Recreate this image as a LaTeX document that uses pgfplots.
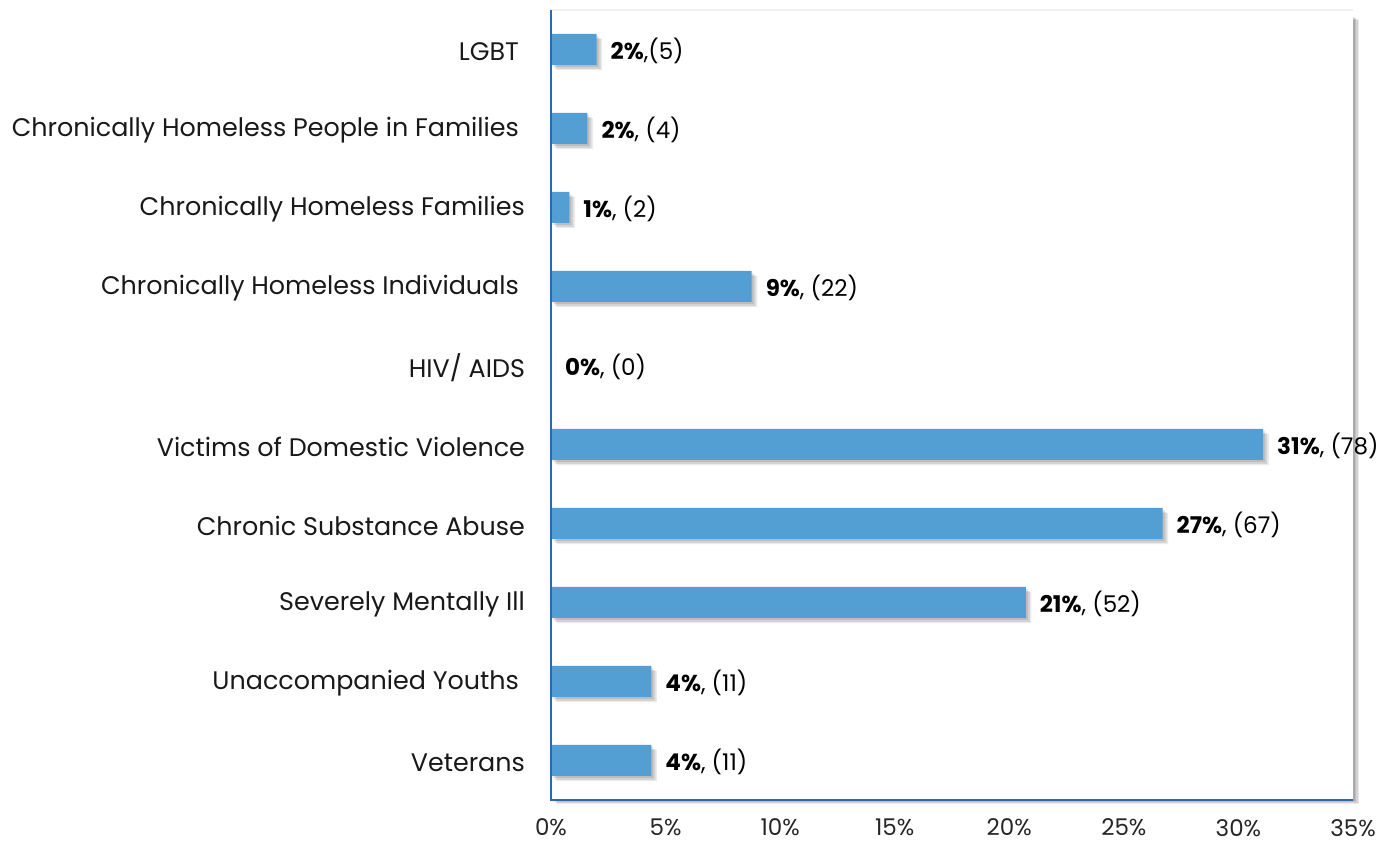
\documentclass[border=0pt]{standalone}
\usepackage{pgfplots}
\pgfplotsset{compat=1.18}
\usepackage{fontspec}
\setmainfont{Poppins}
\definecolor{barblue}{HTML}{539FD3}
\definecolor{axblue}{HTML}{2B6CA8}
\pgfplotstableread{
y x
0 4.38
1 4.38
2 20.72
3 26.69
4 31.08
5 0
6 8.76
7 0.80
8 1.59
9 1.99
}\bars
\begin{document}
\begin{tikzpicture}
\path[use as bounding box] (0,0) rectangle (695.5pt,422pt);
% plot-area shadow
\foreach \d/\o in {1/0.10,2/0.10,3/0.10,4/0.08}{
  \fill[black, opacity=\o] (275.5pt+\d pt*0.8,22pt-\d pt*0.5) rectangle (676.5pt+\d pt*0.8,414pt-\d pt*0.5);
}
\begin{axis}[
 at={(275.5pt,22pt)}, anchor=south west,
 scale only axis, width=401pt, height=395pt,
 xmin=0, xmax=35, ymin=-0.5, ymax=9.5,
 clip=false,
 xtick={0,5,...,35}, ytick={0,...,9},
 yticklabels={Veterans, Unaccompanied Youths\kern3pt, Severely Mentally Ill, Chronic Substance Abuse, Victims of Domestic Violence, HIV/ AIDS, Chronically Homeless Individuals\kern3pt, Chronically Homeless Families, Chronically Homeless People in Families\kern3pt, LGBT\kern3pt},
 major tick length=0pt, tick style={draw=none},
 axis line style={draw=none},
 xticklabel={\pgfmathprintnumber{\tick}\%},
 /pgf/number format/assume math mode=true,
 xticklabel style={font=\fontsize{11.5}{13}\selectfont, yshift=-6pt, text=black!85},
 yticklabel style={font=\fontsize{12.7}{14}\selectfont, xshift=-9.5pt, yshift=-1pt, text=black!90},
 axis background/.style={fill=white},
 xbar, bar width=15.5pt,
]
\addplot[forget plot, fill=black, opacity=0.10, draw=none, xshift=1pt, yshift=-1pt] table[x=x,y=y] {\bars};
\addplot[forget plot, fill=black, opacity=0.10, draw=none, xshift=2pt, yshift=-2pt] table[x=x,y=y] {\bars};
\addplot[forget plot, fill=black, opacity=0.08, draw=none, xshift=2.8pt, yshift=-2.6pt] table[x=x,y=y] {\bars};
\addplot[fill=barblue, draw=none,
 nodes near coords, point meta=explicit symbolic,
 nodes near coords align={horizontal},
 every node near coord/.append style={font=\fontsize{11.5}{13}\selectfont, anchor=west, xshift=3.5pt, yshift=-0.5pt, color=black, opacity=1}] coordinates {
(4.38,0) [{\textbf{4\%}, (11)}]
(4.38,1) [{\textbf{4\%}, (11)}]
(20.72,2) [{\textbf{21\%}, (52)}]
(26.69,3) [{\textbf{27\%}, (67)}]
(31.08,4) [{\textbf{31\%}, (78)}]
(0,5) [{\textbf{0\%}, (0)}]
(8.76,6) [{\textbf{9\%}, (22)}]
(0.80,7) [{\textbf{1\%}, (2)}]
(1.59,8) [{\textbf{2\%}, (4)}]
(1.99,9) [{\textbf{2\%},(5)}]
};
\draw[black!6, line width=0.8pt] (rel axis cs:0,1) -- (rel axis cs:1,1);
\draw[axblue, line width=1pt] (rel axis cs:0,1) -- (rel axis cs:0,0) -- (rel axis cs:1,0);
\end{axis}
\end{tikzpicture}
\end{document}
